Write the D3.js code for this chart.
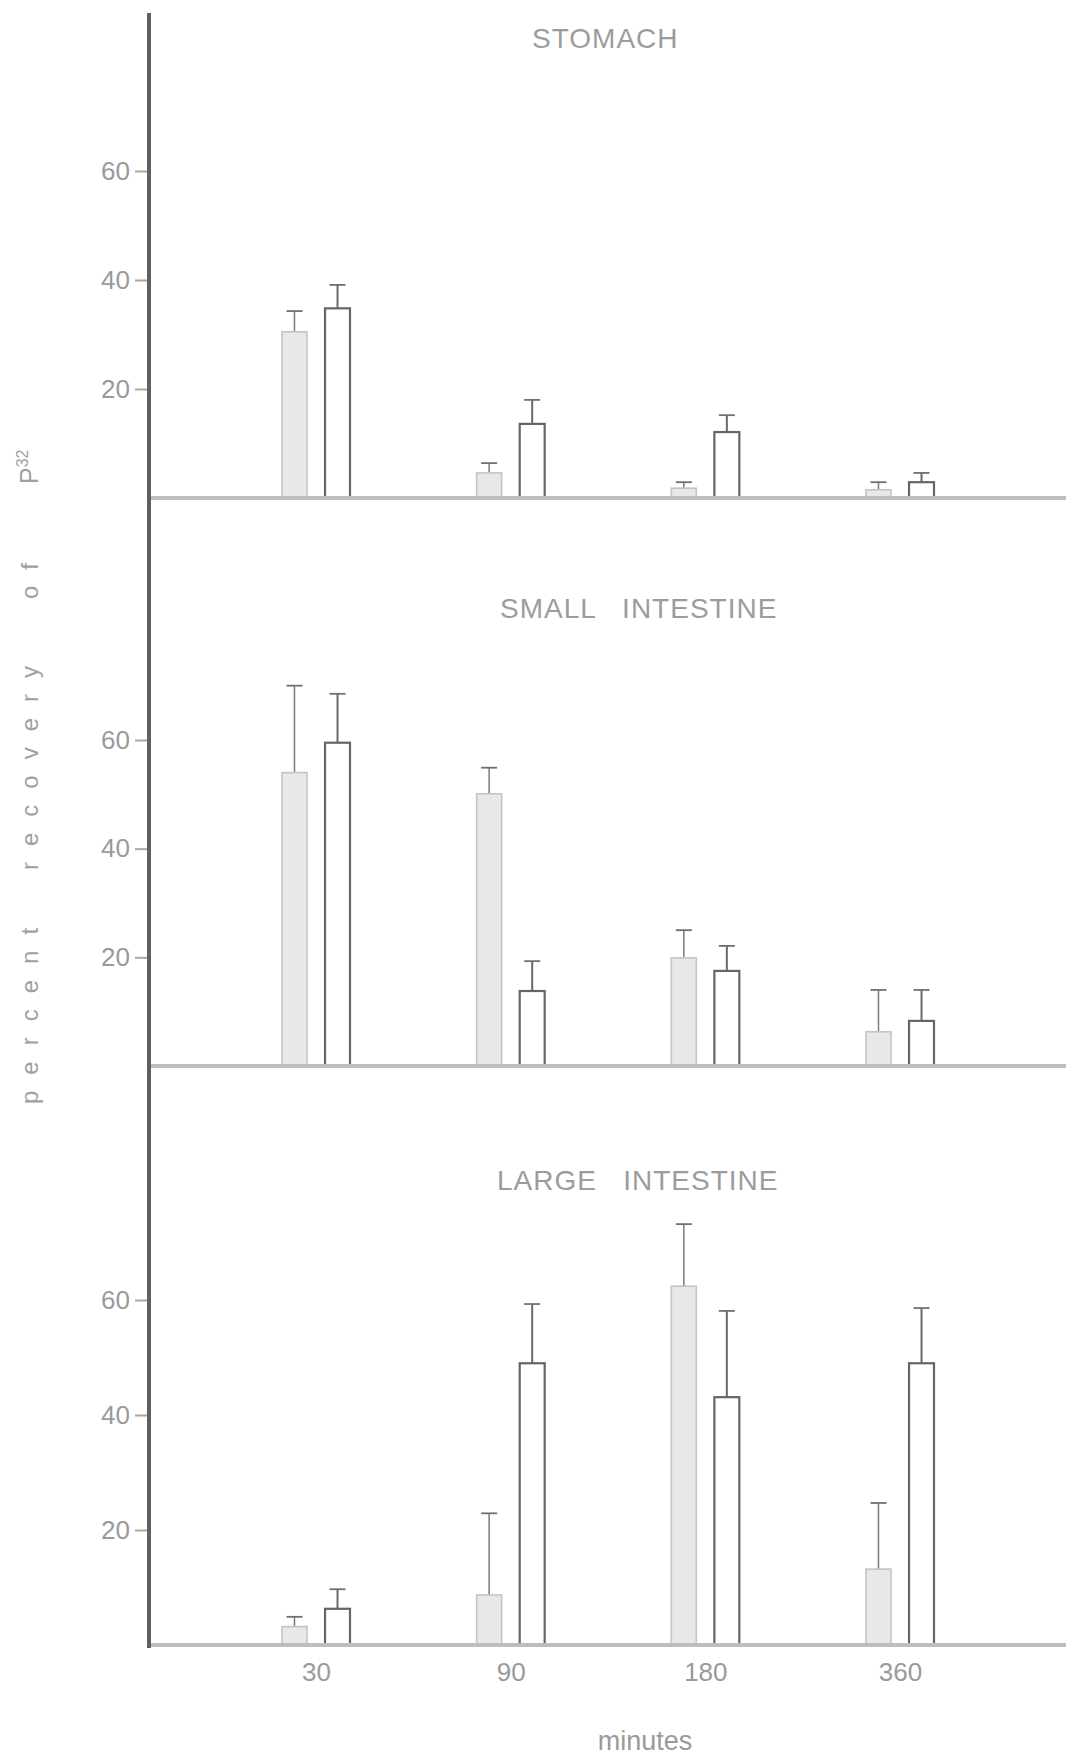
<!DOCTYPE html>
<html>
<head>
<meta charset="utf-8">
<script src="https://cdn.jsdelivr.net/npm/d3@7"></script>
<style>
  html, body { margin: 0; padding: 0; background: #fff; }
  svg { display: block; font-family: 'Liberation Sans', Arial, sans-serif; }
</style>
</head>
<body>
<div id="chart"></div>
<script>
// Percent recovery of P32 in stomach, small and large intestine

// categories
const times = ['30', '90', '180', '360'];
const groups = ['shaded', 'open'];
const panelTitles = ['STOMACH', 'SMALL   INTESTINE', 'LARGE   INTESTINE'];
const yTicks = [20, 40, 60];
const yLabelWords = ['percent', 'recovery', 'of'];

// stomach
const stomachShaded = [30.5, 4.6, 1.8, 1.5];
const stomachShadedSE = [3.8, 1.8, 1.1, 1.4];
const stomachOpen = [34.8, 13.6, 12.1, 2.9];
const stomachOpenSE = [4.3, 4.4, 3.1, 1.7];

// small intestine
const smallShaded = [54, 50.1, 19.9, 6.3];
const smallShadedSE = [16, 4.8, 5.1, 7.7];
const smallOpen = [59.5, 13.8, 17.5, 8.3];
const smallOpenSE = [9, 5.5, 4.6, 5.7];

// large intestine
const largeShaded = [3.2, 8.7, 62.4, 13.2];
const largeShadedSE = [1.7, 14.2, 10.8, 11.5];
const largeOpen = [6.3, 49, 43.1, 49];
const largeOpenSE = [3.4, 10.3, 15, 9.6];

(function() {
  const W = 1066, H = 1760;
  const axisX = 149;

  // each panel: pixel of 0 and of 60, title placement
  const panels = [
    { title: panelTitles[0], base: 498, top: 171, titleX: 532, titleY: 48,
      shaded: stomachShaded, shadedSE: stomachShadedSE, open: stomachOpen, openSE: stomachOpenSE },
    { title: panelTitles[1], base: 1066, top: 740, titleX: 500, titleY: 618,
      shaded: smallShaded, shadedSE: smallShadedSE, open: smallOpen, openSE: smallOpenSE },
    { title: panelTitles[2], base: 1645, top: 1300, titleX: 497, titleY: 1190,
      shaded: largeShaded, shadedSE: largeShadedSE, open: largeOpen, openSE: largeOpenSE }
  ];

  const svg = d3.select('#chart')
    .append('svg')
    .attr('width', W)
    .attr('height', H)
    .style('background', '#fff');

  // x scales: time points, then shaded/open within each time
  const x = d3.scalePoint().domain(times).range([316, 900]);
  const xInner = d3.scaleBand().domain(groups).range([-34, 34]).paddingInner(0.42);
  const bw = xInner.bandwidth();

  let lastY = null;

  panels.forEach(p => {
    const y = d3.scaleLinear().domain([0, 60]).range([p.base, p.top]);
    lastY = y;
    const g = svg.append('g');

    const rows = [];
    times.forEach((t, i) => {
      rows.push({ time: t, group: 'shaded', value: p.shaded[i], se: p.shadedSE[i] });
      rows.push({ time: t, group: 'open', value: p.open[i], se: p.openSE[i] });
    });

    // error bars (upper only)
    const err = g.selectAll('.err').data(rows).enter().append('g').attr('class', 'err');
    err.append('line')
      .attr('x1', d => x(d.time) + xInner(d.group) + bw / 2)
      .attr('x2', d => x(d.time) + xInner(d.group) + bw / 2)
      .attr('y1', d => y(d.value))
      .attr('y2', d => y(d.value + d.se))
      .attr('stroke', d => d.group === 'open' ? '#6a6a6a' : '#7a7a7a')
      .attr('stroke-width', d => d.group === 'open' ? 2 : 1.5);
    err.append('line')
      .attr('x1', d => x(d.time) + xInner(d.group) + bw / 2 - 8)
      .attr('x2', d => x(d.time) + xInner(d.group) + bw / 2 + 8)
      .attr('y1', d => y(d.value + d.se))
      .attr('y2', d => y(d.value + d.se))
      .attr('stroke', '#707070')
      .attr('stroke-width', 1.8);

    // bars
    g.selectAll('.bar').data(rows).enter().append('rect')
      .attr('class', 'bar')
      .attr('x', d => x(d.time) + xInner(d.group))
      .attr('y', d => y(d.value))
      .attr('width', bw)
      .attr('height', d => y(0) - y(d.value))
      .attr('fill', d => d.group === 'open' ? '#ffffff' : '#e8e8e8')
      .attr('stroke', d => d.group === 'open' ? '#656565' : '#c4c4c4')
      .attr('stroke-width', d => d.group === 'open' ? 2.2 : 1.6);

    // baseline
    g.append('line')
      .attr('x1', axisX).attr('x2', W)
      .attr('y1', y(0)).attr('y2', y(0))
      .attr('stroke', '#bdbdbd')
      .attr('stroke-width', 4);

    // y axis ticks
    const ya = g.append('g')
      .attr('transform', `translate(${axisX},0)`)
      .call(d3.axisLeft(y).tickValues(yTicks).tickSize(14).tickPadding(5));
    ya.select('.domain').remove();
    ya.selectAll('.tick line').attr('stroke', '#a8a8a8').attr('stroke-width', 2);
    ya.selectAll('.tick text')
      .attr('fill', '#9a9a9a')
      .style('font-size', '26px')
      .style('font-family', "'Liberation Sans', Arial, sans-serif");

    // panel title
    g.append('text')
      .attr('x', p.titleX)
      .attr('y', p.titleY)
      .attr('fill', '#9c9c9c')
      .style('font-size', '28px')
      .style('letter-spacing', '1px')
      .style('white-space', 'pre')
      .text(p.title);
  });

  // x axis labels under the large intestine panel
  const xa = svg.append('g')
    .attr('transform', `translate(0,${lastY(0)})`)
    .call(d3.axisBottom(x).tickSize(0).tickPadding(18));
  xa.select('.domain').remove();
  xa.selectAll('.tick text')
    .attr('fill', '#9a9a9a')
    .style('font-size', '26px')
    .style('font-family', "'Liberation Sans', Arial, sans-serif");

  svg.append('text')
    .attr('x', 645)
    .attr('y', 1750)
    .attr('text-anchor', 'middle')
    .attr('fill', '#9a9a9a')
    .style('font-size', '27px')
    .text('minutes');

  // the one long y axis line through all panels
  svg.append('line')
    .attr('x1', axisX).attr('x2', axisX)
    .attr('y1', 13).attr('y2', 1648)
    .attr('stroke', '#606060')
    .attr('stroke-width', 4);

  // rotated y label, word by word (starting ends, bottom to top)
  const wordStarts = [1104, 870, 599];
  yLabelWords.forEach((w, i) => {
    svg.append('text')
      .attr('transform', `translate(38,${wordStarts[i]}) rotate(-90)`)
      .attr('fill', '#a0a0a0')
      .style('font-size', '24px')
      .style('letter-spacing', '16px')
      .text(w);
  });
  const pl = svg.append('text')
    .attr('transform', 'translate(38,484) rotate(-90)')
    .attr('fill', '#a0a0a0')
    .style('font-size', '25px')
    .text('P');
  pl.append('tspan')
    .attr('dy', -10)
    .style('font-size', '16px')
    .text('32');

  console.log('chart drawn');
})();
</script>
</body>
</html>
